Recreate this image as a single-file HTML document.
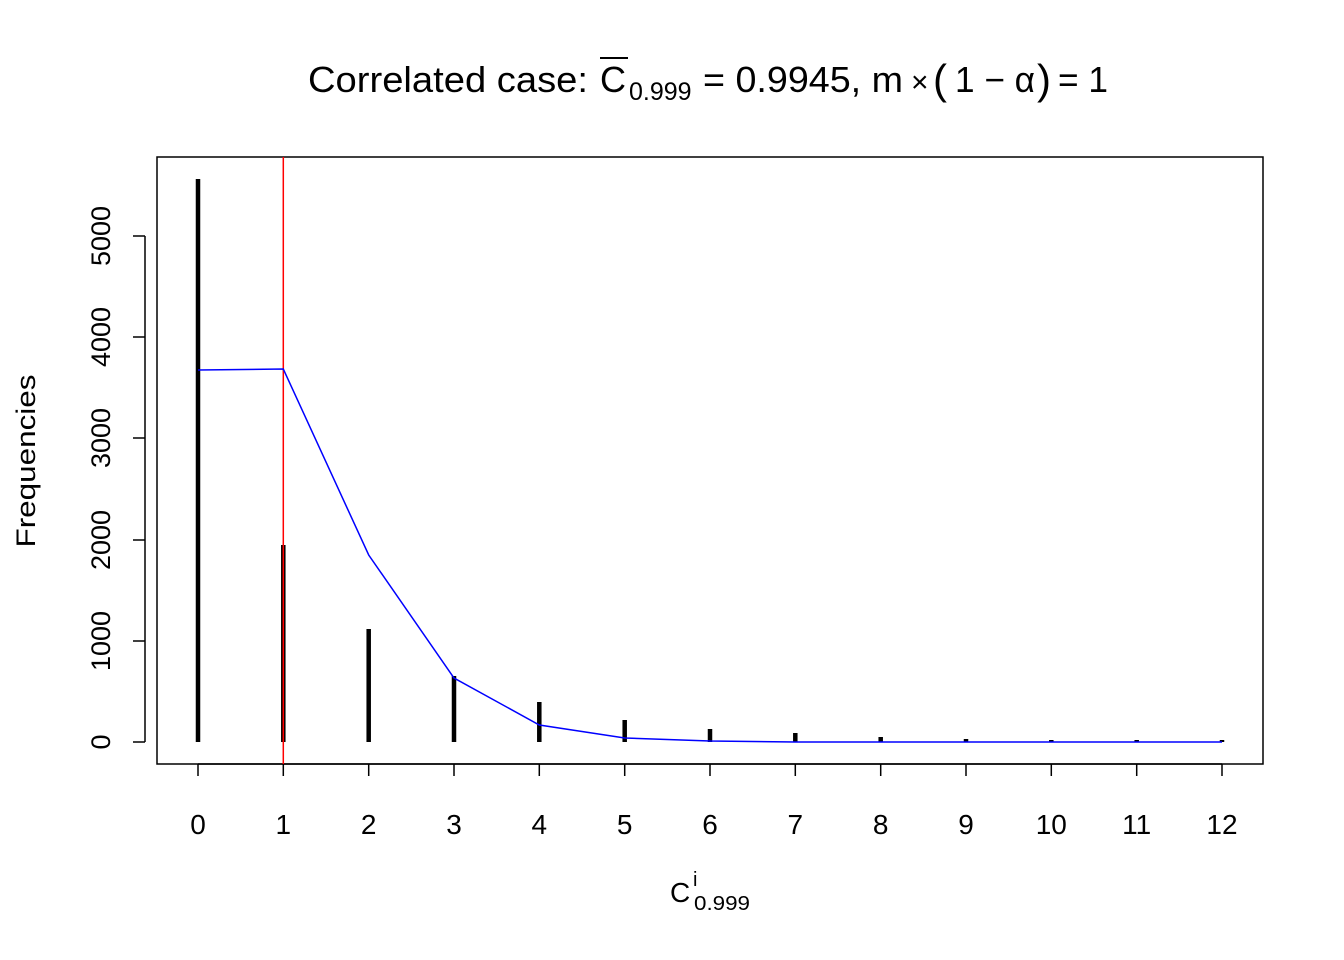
<!DOCTYPE html>
<html><head><meta charset="utf-8"><style>body{margin:0;background:#fff}svg{display:block}</style></head>
<body>
<svg width="1344" height="960" xmlns="http://www.w3.org/2000/svg" font-family="Liberation Sans, Arial, sans-serif">
<rect width="1344" height="960" fill="#fff"/>
<rect x="157" y="157" width="1106" height="607" fill="none" stroke="#000" stroke-width="1.5"/>
<!-- title -->
<g font-size="36">
<text x="308" y="92" textLength="280" lengthAdjust="spacingAndGlyphs">Correlated case:</text>
<text x="600" y="92">C</text>
<text x="629" y="100" font-size="25">0.999</text>
<text x="703" y="92" textLength="200" lengthAdjust="spacingAndGlyphs">= 0.9945, m</text>
<text x="911" y="92" font-size="30">×</text>
<text x="933" y="94" font-size="42">(</text>
<text x="955" y="92" textLength="80" lengthAdjust="spacingAndGlyphs">1 − α</text>
<text x="1037" y="94" font-size="42">)</text>
<text x="1058" y="92" textLength="50" lengthAdjust="spacingAndGlyphs">= 1</text>
</g>
<line x1="600" y1="58" x2="628" y2="58" stroke="#000" stroke-width="2"/>
<!-- y axis -->
<g stroke="#000" stroke-width="1.5">
<line x1="145" y1="236" x2="145" y2="742"/>
<line x1="133" y1="742" x2="145" y2="742"/>
<line x1="133" y1="641" x2="145" y2="641"/>
<line x1="133" y1="540" x2="145" y2="540"/>
<line x1="133" y1="438" x2="145" y2="438"/>
<line x1="133" y1="337" x2="145" y2="337"/>
<line x1="133" y1="236" x2="145" y2="236"/>
</g>
<g font-size="27" text-anchor="middle">
<text transform="translate(110,742) rotate(-90)">0</text>
<text transform="translate(110,641) rotate(-90)">1000</text>
<text transform="translate(110,540) rotate(-90)">2000</text>
<text transform="translate(110,438) rotate(-90)">3000</text>
<text transform="translate(110,337) rotate(-90)">4000</text>
<text transform="translate(110,236) rotate(-90)">5000</text>
<text transform="translate(35,461) rotate(-90)" textLength="173" lengthAdjust="spacingAndGlyphs">Frequencies</text>
</g>
<!-- x axis -->
<g stroke="#000" stroke-width="1.5">
<line x1="198" y1="764" x2="1222" y2="764"/>
<line x1="198" y1="764" x2="198" y2="776"/><line x1="283.3" y1="764" x2="283.3" y2="776"/>
<line x1="368.7" y1="764" x2="368.7" y2="776"/><line x1="454" y1="764" x2="454" y2="776"/>
<line x1="539.3" y1="764" x2="539.3" y2="776"/><line x1="624.7" y1="764" x2="624.7" y2="776"/>
<line x1="710" y1="764" x2="710" y2="776"/><line x1="795.3" y1="764" x2="795.3" y2="776"/>
<line x1="880.7" y1="764" x2="880.7" y2="776"/><line x1="966" y1="764" x2="966" y2="776"/>
<line x1="1051.3" y1="764" x2="1051.3" y2="776"/><line x1="1136.7" y1="764" x2="1136.7" y2="776"/>
<line x1="1222" y1="764" x2="1222" y2="776"/>
</g>
<g font-size="28" text-anchor="middle">
<text x="198" y="834">0</text><text x="283.3" y="834">1</text><text x="368.7" y="834">2</text>
<text x="454" y="834">3</text><text x="539.3" y="834">4</text><text x="624.7" y="834">5</text>
<text x="710" y="834">6</text><text x="795.3" y="834">7</text><text x="880.7" y="834">8</text>
<text x="966" y="834">9</text><text x="1051.3" y="834">10</text><text x="1136.7" y="834">11</text>
<text x="1222" y="834">12</text>
</g>
<text x="670" y="902" font-size="28">C</text>
<text x="693" y="886" font-size="20">i</text>
<text x="694" y="910" font-size="20" textLength="56" lengthAdjust="spacingAndGlyphs">0.999</text>
<!-- bars -->
<g stroke="#000" stroke-width="4.5">
<line x1="198" y1="742" x2="198" y2="179"/>
<line x1="283.3" y1="742" x2="283.3" y2="545"/>
<line x1="368.7" y1="742" x2="368.7" y2="629"/>
<line x1="454" y1="742" x2="454" y2="676"/>
<line x1="539.3" y1="742" x2="539.3" y2="702"/>
<line x1="624.7" y1="742" x2="624.7" y2="720"/>
<line x1="710" y1="742" x2="710" y2="729"/>
<line x1="795.3" y1="742" x2="795.3" y2="733"/>
<line x1="880.7" y1="742" x2="880.7" y2="737"/>
<line x1="966" y1="742" x2="966" y2="739"/>
<line x1="1051.3" y1="742" x2="1051.3" y2="740"/>
<line x1="1136.7" y1="742" x2="1136.7" y2="740"/>
<line x1="1222" y1="742" x2="1222" y2="740"/>
</g>
<line x1="283.3" y1="157" x2="283.3" y2="764" stroke="#f00" stroke-width="1.5"/>
<polyline fill="none" stroke="#00f" stroke-width="1.5" points="198,370 283.3,369 368.7,555 454,678 539.3,725 624.7,738 710,741 795.3,742 880.7,742 966,742 1051.3,742 1136.7,742 1222,742"/>
</svg>
</body></html>
